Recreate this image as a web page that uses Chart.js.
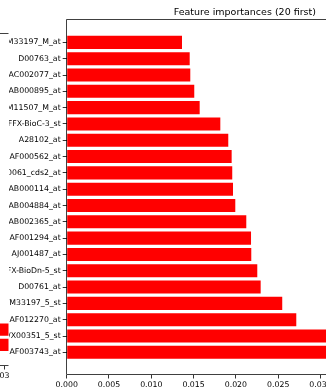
<!DOCTYPE html>
<html>
<head>
<meta charset="utf-8">
<script src="https://cdn.jsdelivr.net/npm/chart.js@4/dist/chart.umd.min.js"></script>
<style>
  html, body { margin: 0; padding: 0; background: #fff; overflow: hidden; width: 326px; height: 390px; position: relative; }
  #side { position: absolute; left: -150px; top: 0; width: 200px; height: 400px; }
  #main { position: absolute; left: 9px; top: 0; width: 430px; height: 400px; }
</style>
</head>
<body>
<canvas id="side" width="200" height="400"></canvas>
<canvas id="main" width="430" height="400"></canvas>
<script>
// Top 20 features, listed top to bottom as they appear on the axis
const features = [
  'AFFX-HUMGAPDH/M33197_M_at', 'D00763_at', 'AC002077_at', 'AB000895_at',
  'AFFX-HUMTFRR/M11507_M_at', 'AFFX-BioC-3_st', 'A28102_at', 'AF000562_at',
  'AC000061_cds2_at', 'AB000114_at', 'AB004884_at', 'AB002365_at',
  'AF001294_at', 'AJ001487_at', 'AFFX-BioDn-5_st', 'D00761_at',
  'AFFX-HUMGAPDH/M33197_5_st', 'AF012270_at', 'AFFX-HSAC07/X00351_5_st', 'AF003743_at'
];
const importances = [
  0.01363, 0.01454, 0.01461, 0.01508,
  0.01572, 0.01816, 0.01910, 0.01950,
  0.01957, 0.01966, 0.01993, 0.02123,
  0.02179, 0.02182, 0.02253, 0.02293,
  0.02548, 0.02714, 0.0340, 0.0401
];
const xTicks = [0, 0.005, 0.010, 0.015, 0.020, 0.025, 0.030, 0.035, 0.040];
const titleText = 'Feature importances (20 first)';

// Neighbouring panel on the left: only its two bottom bars and one tick reach this area
const sideRows = [18, 19];
const sideValues = [0.0032, 0.0033];
const sideTicks = [0.003];

const FONT = 'DejaVu Sans';
const SPINE = 'rgba(0,0,0,0.75)';

// Axes frame drawn over the bars
const frame = {
  id: 'frame',
  afterDatasetsDraw(chart, args, opts) {
    const { ctx, chartArea: a } = chart;
    const L = Math.round(a.left) - 0.5, R = Math.round(a.right) - 0.5;
    const T = Math.round(a.top) - 0.5, B = Math.round(a.bottom) - 0.5;
    ctx.save();
    ctx.strokeStyle = SPINE;
    ctx.lineWidth = 1;
    ctx.beginPath();
    for (const side of opts.sides) {
      if (side === 'top') { ctx.moveTo(L, T); ctx.lineTo(R, T); }
      if (side === 'bottom') { ctx.moveTo(L, B); ctx.lineTo(R, B); }
      if (side === 'left') { ctx.moveTo(L, T); ctx.lineTo(L, B); }
      if (side === 'right') { ctx.moveTo(R, T); ctx.lineTo(R, B); }
    }
    ctx.stroke();
    ctx.restore();
  }
};

const tickGrid = (len) => ({
  drawOnChartArea: false, drawTicks: true, tickLength: len, offset: false,
  color: 'rgba(0,0,0,0.8)', lineWidth: 1
});

new Chart(document.getElementById('side'), {
  type: 'bar',
  data: {
    datasets: [{
      data: sideRows.map((r, i) => ({ x: sideValues[i], y: r })),
      backgroundColor: '#ff0000', borderWidth: 0,
      categoryPercentage: 1, barPercentage: 0.8, clip: 0
    }]
  },
  options: {
    indexAxis: 'y', responsive: false, animation: false,
    layout: { padding: { top: 34, left: 40, right: 41.5, bottom: 0 } },
    plugins: { legend: { display: false }, tooltip: { enabled: false }, frame: { sides: ['top', 'bottom'] } },
    scales: {
      x: {
        type: 'linear', min: 0, max: 0.0031,
        afterBuildTicks: s => { s.ticks = sideTicks.map(v => ({ value: v })); },
        afterFit: s => { s.height = 34; },
        grid: tickGrid(3.5), border: { display: false },
        ticks: { font: { family: FONT, size: 7.8 }, color: '#000', padding: 2, maxRotation: 0, autoSkip: false,
                 labelOffset: -6.5, callback: v => v.toFixed(3) }
      },
      y: {
        type: 'linear', display: false, reverse: true, offset: false, min: -1.39, max: 20.39
      }
    }
  },
  plugins: [frame]
});

new Chart(document.getElementById('main'), {
  type: 'bar',
  data: {
    datasets: [{
      data: importances.map((v, i) => ({ x: v, y: i })),
      backgroundColor: '#ff0000', borderWidth: 0,
      categoryPercentage: 1, barPercentage: 0.8, clip: 0
    }]
  },
  options: {
    indexAxis: 'y', responsive: false, animation: false,
    layout: { padding: { top: 0, left: 0, right: 16, bottom: 0 } },
    plugins: {
      legend: { display: false }, tooltip: { enabled: false },
      title: {
        display: true, text: titleText, fullSize: false, align: 'center',
        color: '#000', font: { family: FONT, size: 9.5, weight: 'normal', lineHeight: 1.2 },
        padding: { top: 6.5, bottom: 1.8 }
      },
      frame: { sides: ['top', 'bottom', 'left', 'right'] }
    },
    scales: {
      x: {
        type: 'linear', position: 'bottom', min: 0, max: 0.04212,
        afterBuildTicks: s => { s.ticks = xTicks.map(v => ({ value: v })); },
        afterFit: s => { s.height = 25; },
        grid: tickGrid(3.5), border: { display: false },
        ticks: { font: { family: FONT, size: 7.8 }, color: '#000', padding: 2, maxRotation: 0, autoSkip: false,
                 callback: v => v.toFixed(3) }
      },
      y: {
        type: 'linear', position: 'left', reverse: true, offset: false, min: -1.39, max: 20.39,
        afterBuildTicks: s => { s.ticks = features.map((_, i) => ({ value: i })); },
        afterFit: s => { s.width = 57.7; },
        grid: tickGrid(4), border: { display: false },
        ticks: { font: { family: FONT, size: 7.8 }, color: '#000', padding: 2, autoSkip: false,
                 callback: v => features[v] }
      }
    }
  },
  plugins: [frame]
});
</script>
</body>
</html>
